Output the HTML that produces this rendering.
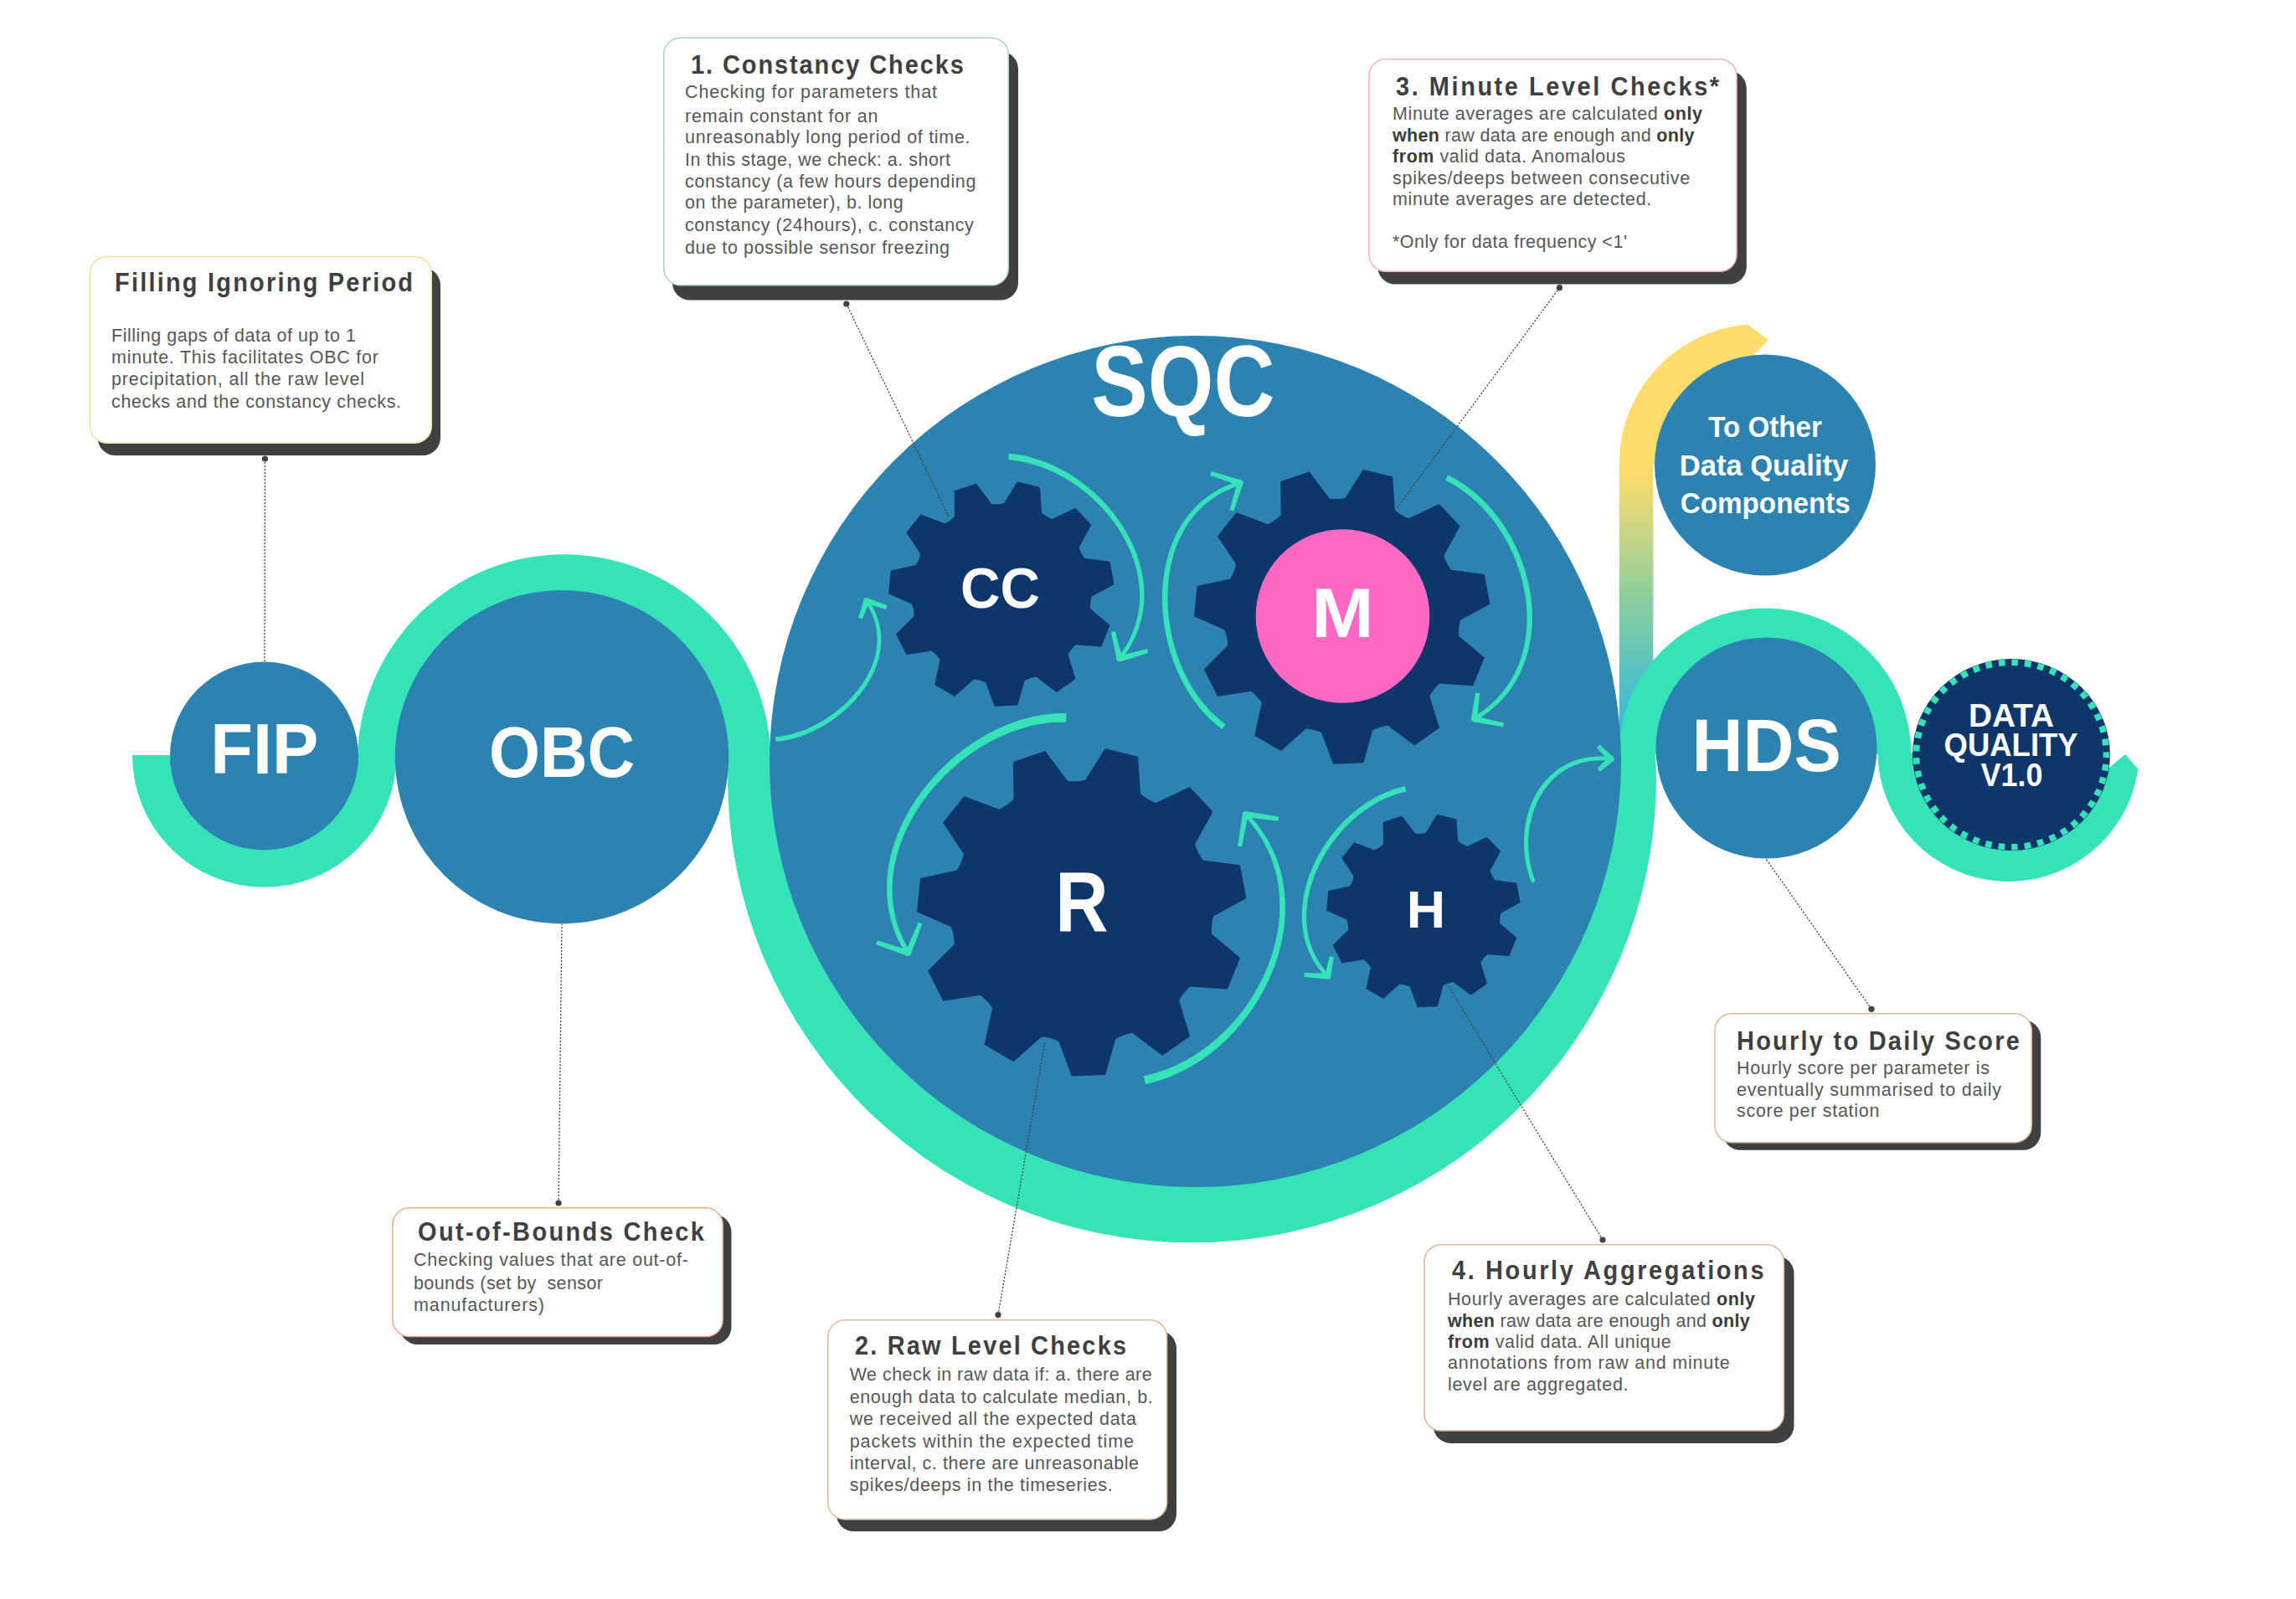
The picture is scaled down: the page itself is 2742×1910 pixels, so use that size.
<!DOCTYPE html>
<html><head><meta charset="utf-8"><style>
html,body{margin:0;padding:0;background:#fff;overflow:hidden;}
svg{display:block;}
text{font-family:"Liberation Sans",sans-serif;}
</style></head><body>
<svg width="2742" height="1910" viewBox="0 0 2742 1910">
<rect width="2742" height="1910" fill="#fff"/>
<path fill="#36E3B9" d="M158,902 A157.8,157.8 0 0 0 473.6,902 Z"/>
<path fill="#36E3B9" d="M427,909 A246.7,246.7 0 1 1 920.4,909 Z"/>
<path fill="#36E3B9" d="M870.2,895 A554.4,554.4 0 1 0 1976.8,895 Z"/>
<defs><linearGradient id="yg" x1="0" y1="380" x2="0" y2="870" gradientUnits="userSpaceOnUse"><stop offset="0" stop-color="#FDDC6B"/><stop offset="0.375" stop-color="#FDDC6B"/><stop offset="0.51" stop-color="#CFD682"/><stop offset="0.663" stop-color="#92CF98"/><stop offset="0.918" stop-color="#48BFCF"/><stop offset="1" stop-color="#37BCDA"/></linearGradient></defs>
<path fill="url(#yg)" d="M1933.8,880 L1933.8,553 A166.9,166.9 0 0 1 2087,387.5 L2112,406 L2095,423 L2108,555 L1974.3,555 L1974.3,880 Z"/>
<path fill="#36E3B9" d="M1933.5,901 A174.5,174.5 0 1 1 2282.5,901 Z"/>
<path fill="#36E3B9" d="M2242.2,897.8 A156.4,156.4 0 0 0 2553.4,918.8 L2538,901 L2519,917 L2402,901 Z"/>
<circle cx="315.5" cy="903" r="112.5" fill="#2C83B2"/>
<circle cx="671" cy="904.2" r="199.2" fill="#2C83B2"/>
<circle cx="1427.5" cy="909.6" r="508.5" fill="#2C83B2"/>
<circle cx="2108" cy="555.5" r="132" fill="#2C83B2"/>
<circle cx="2109.5" cy="893.5" r="132" fill="#2C83B2"/>
<ellipse cx="2402" cy="901.5" rx="118" ry="114.4" fill="#0F366B"/>
<ellipse cx="2402" cy="901.5" rx="113.5" ry="110.2" fill="none" stroke="#36E3B9" stroke-width="7.6" stroke-dasharray="7.6 8.018" stroke-dashoffset="4"/>
<path fill="#0F366B" d="M1198.8,601.3 L1215,575.3 L1242,582.1 L1244.1,612.6 Q1249.6,617.4 1256.6,619.9 L1284.3,606.8 L1303.3,627.1 L1288.6,653.9 Q1290.6,661 1295.1,666.8 L1325.5,670.8 L1330.6,698.1 L1303.7,712.7 Q1301.6,719.8 1302.2,727.1 L1325.6,746.8 L1315.1,772.5 L1284.6,770.3 Q1279,775.1 1275.5,781.7 L1284.6,810.9 L1261.8,826.9 L1237.4,808.5 Q1230.1,809.5 1223.6,813.1 L1215.4,842.6 L1187.7,843.7 L1177,815 Q1170.3,812 1163,811.5 L1140.1,831.9 L1116.1,817.9 L1122.7,788 Q1118.7,781.7 1112.8,777.4 L1082.5,782.1 L1070,757.4 L1091.7,735.8 Q1091.7,728.4 1089,721.5 L1061,709.2 L1063.8,681.6 L1093.7,675.1 Q1097.7,668.9 1099.2,661.7 L1082.3,636.2 L1099.6,614.5 L1128.3,625.2 Q1135,622.2 1140.1,616.9 L1139.7,586.3 L1166,577.4 L1184.3,601.9 Q1191.6,603 1198.8,601.3 Z"/>
<path fill="#0F366B" d="M1606.7,594.8 L1627.9,560.8 L1663.2,569.6 L1666,609.6 Q1673.3,616 1682.4,619.2 L1718.7,602.1 L1743.7,628.6 L1724.4,663.7 Q1727.1,673 1733,680.7 L1772.8,685.9 L1779.4,721.7 L1744.2,740.8 Q1741.4,750.1 1742.2,759.8 L1772.9,785.6 L1759.2,819.3 L1719.2,816.4 Q1711.8,822.7 1707.3,831.3 L1719.1,869.6 L1689.3,890.5 L1657.3,866.4 Q1647.7,867.8 1639.2,872.5 L1628.4,911.2 L1592.1,912.7 L1578.1,875 Q1569.3,871 1559.7,870.4 L1529.7,897.1 L1498.3,878.7 L1506.9,839.5 Q1501.7,831.4 1493.9,825.7 L1454.2,831.9 L1437.8,799.5 L1466.2,771.1 Q1466.2,761.5 1462.7,752.4 L1426,736.3 L1429.7,700.1 L1468.9,691.6 Q1474.2,683.5 1476.1,674 L1454,640.5 L1476.6,612.1 L1514.2,626.2 Q1523,622.2 1529.8,615.2 L1529.2,575.1 L1563.7,563.4 L1587.7,595.6 Q1597.3,597 1606.7,594.8 Z"/>
<path fill="#0F366B" d="M1296.1,931.8 L1319.8,894 L1359.1,903.8 L1362.1,948.3 Q1370.3,955.4 1380.4,959 L1420.8,939.9 L1448.6,969.4 L1427.1,1008.6 Q1430.1,1018.9 1436.7,1027.5 L1480.9,1033.2 L1488.4,1073 L1449.1,1094.4 Q1446.1,1104.7 1447,1115.4 L1481.1,1144.2 L1465.8,1181.7 L1421.3,1178.5 Q1413.1,1185.5 1408.1,1195 L1421.2,1237.7 L1388.1,1261 L1352.4,1234.1 Q1341.7,1235.6 1332.3,1240.9 L1320.3,1284 L1279.8,1285.6 L1264.3,1243.8 Q1254.5,1239.2 1243.8,1238.6 L1210.4,1268.3 L1175.5,1247.8 L1185.1,1204.2 Q1179.3,1195.1 1170.5,1188.8 L1126.4,1195.7 L1108.1,1159.6 L1139.7,1128.1 Q1139.8,1117.3 1135.9,1107.3 L1095,1089.3 L1099.1,1049 L1142.8,1039.6 Q1148.6,1030.5 1150.8,1020 L1126.1,982.7 L1151.4,951.1 L1193.2,966.7 Q1203,962.3 1210.5,954.6 L1209.9,909.9 L1248.3,896.9 L1274.9,932.7 Q1285.6,934.3 1296.1,931.8 Z"/>
<path fill="#0F366B" d="M1702.4,995 L1716.3,972.7 L1739.5,978.4 L1741.3,1004.7 Q1746.1,1008.8 1752.1,1011 L1775.8,999.7 L1792.2,1017.1 L1779.5,1040.1 Q1781.3,1046.2 1785.2,1051.3 L1811.3,1054.7 L1815.6,1078.1 L1792.5,1090.7 Q1790.7,1096.7 1791.2,1103.1 L1811.3,1120 L1802.3,1142.1 L1776.1,1140.2 Q1771.3,1144.3 1768.3,1149.9 L1776.1,1175.1 L1756.6,1188.8 L1735.6,1173 Q1729.3,1173.9 1723.7,1177 L1716.7,1202.3 L1692.8,1203.3 L1683.7,1178.6 Q1677.9,1176 1671.6,1175.6 L1652,1193.1 L1631.4,1181 L1637,1155.4 Q1633.6,1150 1628.5,1146.3 L1602.5,1150.4 L1591.7,1129.1 L1610.3,1110.5 Q1610.4,1104.2 1608.1,1098.3 L1584,1087.7 L1586.4,1063.9 L1612.1,1058.4 Q1615.6,1053.1 1616.8,1046.9 L1602.3,1024.9 L1617.2,1006.3 L1641.8,1015.5 Q1647.6,1012.9 1652,1008.3 L1651.7,982.1 L1674.2,974.4 L1690,995.5 Q1696.2,996.4 1702.4,995 Z"/>
<circle cx="1603.5" cy="736" r="103.8" fill="#FF69C3"/>
<path fill="#36E3B9" d="M926.6,886 L928.4,885.8 L930.3,885.6 L932.2,885.4 L934.1,885.1 L936,884.8 L937.9,884.4 L939.8,884.1 L941.7,883.7 L943.6,883.2 L945.6,882.7 L947.5,882.2 L949.4,881.7 L951.3,881.1 L953.2,880.5 L955.1,879.9 L957,879.3 L958.9,878.6 L960.7,877.9 L962.6,877.1 L964.5,876.3 L966.4,875.5 L968.2,874.7 L970.1,873.9 L971.9,873 L973.8,872.1 L975.6,871.1 L977.5,870.2 L979.3,869.2 L981.1,868.2 L982.9,867.2 L984.7,866.1 L986.4,865 L988.2,863.9 L990,862.8 L991.7,861.6 L993.4,860.5 L995.1,859.3 L996.8,858 L998.5,856.8 L1000.2,855.5 L1001.8,854.3 L1003.4,853 L1005.1,851.6 L1006.7,850.3 L1008.2,848.9 L1009.8,847.5 L1011.3,846.1 L1012.9,844.7 L1014.4,843.3 L1015.9,841.8 L1017.3,840.3 L1018.8,838.8 L1020.2,837.3 L1021.6,835.8 L1022.9,834.2 L1024.3,832.7 L1025.6,831.1 L1026.9,829.5 L1028.2,827.9 L1029.4,826.3 L1030.6,824.6 L1031.8,823 L1033,821.3 L1034.1,819.6 L1035.2,817.9 L1036.3,816.2 L1037.3,814.5 L1038.4,812.8 L1039.3,811 L1040.3,809.3 L1041.2,807.5 L1042.1,805.7 L1043,803.9 L1043.8,802.1 L1044.6,800.3 L1045.3,798.5 L1046,796.7 L1046.7,794.8 L1047.4,793 L1048,791.1 L1048.5,789.3 L1049.1,787.4 L1049.6,785.5 L1050,783.6 L1050.4,781.8 L1050.8,779.9 L1051.1,778 L1051.4,776 L1051.7,774.1 L1051.9,772.2 L1052,770.3 L1052.2,768.4 L1052.2,766.4 L1052.3,764.5 L1052.2,762.6 L1052.2,760.6 L1052.1,758.7 L1051.9,756.7 L1051.7,754.8 L1051.4,752.8 L1051.1,750.9 L1050.8,749 L1050.4,747 L1049.9,745.1 L1049.4,743.1 L1048.9,741.2 L1048.3,739.2 L1047.6,737.3 L1046.9,735.4 L1046.1,733.4 L1045.3,731.5 L1044.4,729.6 L1043.5,727.7 L1042.5,725.8 L1041.5,723.9 L1040.4,722 L1039.2,720.1 L1038,718.2 L1036.7,716.3 L1033.3,718.7 L1034.5,720.5 L1035.6,722.3 L1036.7,724.1 L1037.7,725.9 L1038.7,727.8 L1039.6,729.6 L1040.5,731.4 L1041.3,733.3 L1042.1,735.1 L1042.8,736.9 L1043.4,738.8 L1044.1,740.6 L1044.6,742.4 L1045.1,744.3 L1045.6,746.1 L1046,748 L1046.4,749.8 L1046.7,751.6 L1047,753.5 L1047.2,755.3 L1047.4,757.1 L1047.5,759 L1047.6,760.8 L1047.6,762.6 L1047.6,764.5 L1047.6,766.3 L1047.5,768.1 L1047.4,769.9 L1047.2,771.7 L1047,773.6 L1046.7,775.4 L1046.5,777.2 L1046.1,779 L1045.8,780.8 L1045.4,782.6 L1044.9,784.3 L1044.4,786.1 L1043.9,787.9 L1043.4,789.7 L1042.8,791.4 L1042.1,793.2 L1041.5,794.9 L1040.8,796.7 L1040,798.4 L1039.3,800.1 L1038.5,801.8 L1037.6,803.5 L1036.8,805.2 L1035.9,806.9 L1035,808.6 L1034,810.2 L1033,811.9 L1032,813.5 L1030.9,815.2 L1029.9,816.8 L1028.8,818.4 L1027.6,820 L1026.5,821.6 L1025.3,823.1 L1024.1,824.7 L1022.8,826.2 L1021.6,827.8 L1020.3,829.3 L1019,830.8 L1017.7,832.3 L1016.3,833.7 L1014.9,835.2 L1013.5,836.6 L1012.1,838 L1010.7,839.5 L1009.2,840.8 L1007.8,842.2 L1006.3,843.6 L1004.7,844.9 L1003.2,846.2 L1001.6,847.5 L1000.1,848.8 L998.5,850 L996.9,851.3 L995.3,852.5 L993.6,853.7 L992,854.8 L990.3,856 L988.7,857.1 L987,858.2 L985.3,859.3 L983.6,860.4 L981.8,861.4 L980.1,862.4 L978.4,863.4 L976.6,864.4 L974.9,865.3 L973.1,866.2 L971.3,867.1 L969.5,868 L967.8,868.8 L966,869.6 L964.2,870.4 L962.4,871.2 L960.5,871.9 L958.7,872.6 L956.9,873.3 L955.1,873.9 L953.3,874.5 L951.4,875.1 L949.6,875.7 L947.8,876.2 L946,876.7 L944.2,877.2 L942.3,877.7 L940.5,878.1 L938.7,878.4 L936.9,878.8 L935.1,879.1 L933.3,879.4 L931.4,879.6 L929.6,879.9 L927.9,880.1 L926,880.2Z"/>
<path fill="#36E3B9" d="M1031.7,716.3 L1025.1,738 L1029.9,739.6 L1038.3,718.7Z"/>
<path fill="#36E3B9" d="M1033.9,720.8 L1058,728 L1059.6,723.2 L1036.1,714.2Z"/>
<circle cx="1035" cy="717.5" r="3.5" fill="#36E3B9"/>
<path fill="#36E3B9" d="M1204.1,549.3 L1206.8,549.5 L1209.4,549.8 L1212.1,550.1 L1214.7,550.5 L1217.4,550.9 L1220,551.4 L1222.6,551.9 L1225.3,552.5 L1227.9,553.1 L1230.5,553.8 L1233.1,554.5 L1235.7,555.2 L1238.3,556 L1240.9,556.9 L1243.5,557.8 L1246,558.8 L1248.6,559.7 L1251.1,560.8 L1253.6,561.8 L1256.1,563 L1258.6,564.1 L1261.1,565.3 L1263.6,566.6 L1266,567.9 L1268.5,569.2 L1270.9,570.5 L1273.3,571.9 L1275.6,573.4 L1278,574.8 L1280.3,576.4 L1282.7,577.9 L1285,579.5 L1287.2,581.1 L1289.5,582.7 L1291.7,584.4 L1293.9,586.2 L1296.1,587.9 L1298.3,589.7 L1300.4,591.5 L1302.5,593.3 L1304.6,595.2 L1306.6,597.1 L1308.7,599.1 L1310.7,601 L1312.6,603 L1314.6,605 L1316.5,607.1 L1318.3,609.1 L1320.2,611.2 L1322,613.3 L1323.8,615.5 L1325.5,617.6 L1327.2,619.8 L1328.9,622 L1330.6,624.3 L1332.2,626.5 L1333.7,628.8 L1335.3,631.1 L1336.8,633.4 L1338.2,635.8 L1339.6,638.1 L1341,640.5 L1342.4,642.9 L1343.7,645.3 L1344.9,647.7 L1346.1,650.1 L1347.3,652.6 L1348.4,655 L1349.5,657.5 L1350.6,660 L1351.5,662.5 L1352.5,665 L1353.4,667.5 L1354.3,670 L1355.1,672.6 L1355.8,675.1 L1356.5,677.7 L1357.2,680.3 L1357.8,682.8 L1358.4,685.4 L1358.9,688 L1359.4,690.6 L1359.8,693.2 L1360.2,695.8 L1360.5,698.4 L1360.7,701 L1360.9,703.6 L1361.1,706.2 L1361.2,708.8 L1361.2,711.5 L1361.2,714.1 L1361.1,716.7 L1361,719.3 L1360.8,721.9 L1360.5,724.5 L1360.2,727.2 L1359.8,729.8 L1359.4,732.4 L1358.9,735 L1358.3,737.6 L1357.7,740.2 L1357,742.7 L1356.3,745.3 L1355.5,747.9 L1354.6,750.5 L1353.7,753 L1352.7,755.6 L1351.6,758.1 L1350.5,760.7 L1349.3,763.2 L1348,765.7 L1346.6,768.2 L1345.2,770.7 L1343.7,773.2 L1342.2,775.7 L1340.6,778.1 L1338.9,780.6 L1337.1,783 L1335.2,785.4 L1338.8,788.2 L1340.7,785.7 L1342.6,783.2 L1344.3,780.7 L1346,778.2 L1347.7,775.6 L1349.2,773.1 L1350.7,770.5 L1352.2,767.9 L1353.5,765.3 L1354.8,762.7 L1356,760.1 L1357.1,757.4 L1358.2,754.8 L1359.2,752.1 L1360.1,749.4 L1361,746.8 L1361.8,744.1 L1362.5,741.4 L1363.2,738.7 L1363.8,736 L1364.4,733.3 L1364.8,730.6 L1365.2,727.8 L1365.6,725.1 L1365.9,722.4 L1366.1,719.7 L1366.3,716.9 L1366.4,714.2 L1366.4,711.5 L1366.4,708.7 L1366.3,706 L1366.2,703.3 L1366,700.6 L1365.8,697.8 L1365.5,695.1 L1365.1,692.4 L1364.7,689.7 L1364.3,687 L1363.8,684.3 L1363.2,681.6 L1362.6,678.9 L1361.9,676.3 L1361.2,673.6 L1360.4,671 L1359.6,668.3 L1358.7,665.7 L1357.8,663 L1356.9,660.4 L1355.9,657.8 L1354.8,655.3 L1353.7,652.7 L1352.6,650.1 L1351.4,647.6 L1350.1,645 L1348.9,642.5 L1347.5,640 L1346.2,637.6 L1344.8,635.1 L1343.3,632.7 L1341.8,630.2 L1340.3,627.8 L1338.8,625.4 L1337.2,623.1 L1335.5,620.7 L1333.9,618.4 L1332.1,616.1 L1330.4,613.8 L1328.6,611.6 L1326.8,609.3 L1324.9,607.1 L1323.1,605 L1321.1,602.8 L1319.2,600.7 L1317.2,598.6 L1315.2,596.5 L1313.2,594.4 L1311.1,592.4 L1309,590.4 L1306.9,588.5 L1304.7,586.6 L1302.5,584.7 L1300.3,582.8 L1298.1,581 L1295.8,579.2 L1293.5,577.4 L1291.2,575.7 L1288.8,574 L1286.5,572.3 L1284.1,570.7 L1281.7,569.1 L1279.3,567.6 L1276.8,566 L1274.3,564.6 L1271.8,563.1 L1269.3,561.7 L1266.8,560.4 L1264.2,559.1 L1261.7,557.8 L1259.1,556.6 L1256.5,555.4 L1253.9,554.2 L1251.2,553.1 L1248.6,552.1 L1245.9,551 L1243.3,550.1 L1240.6,549.2 L1237.9,548.3 L1235.2,547.5 L1232.4,546.7 L1229.7,546 L1227,545.3 L1224.2,544.6 L1221.4,544.1 L1218.7,543.5 L1215.9,543.1 L1213.1,542.6 L1210.3,542.3 L1207.5,542 L1204.7,541.7Z"/>
<path fill="#36E3B9" d="M1340.4,786 L1331.8,754.1 L1327,755.3 L1333.6,787.6Z"/>
<path fill="#36E3B9" d="M1337.9,790.2 L1371.4,779.9 L1370,775.1 L1336.1,783.4Z"/>
<circle cx="1337" cy="786.8" r="3.5" fill="#36E3B9"/>
<path fill="#36E3B9" d="M1463.7,865.2 L1461.5,863.6 L1459.3,861.9 L1457.2,860.2 L1455.1,858.4 L1453,856.6 L1451,854.8 L1449,852.9 L1447,850.9 L1445,848.9 L1443.1,846.9 L1441.2,844.8 L1439.4,842.7 L1437.6,840.6 L1435.8,838.4 L1434.1,836.1 L1432.4,833.8 L1430.7,831.5 L1429,829.2 L1427.4,826.8 L1425.9,824.4 L1424.3,821.9 L1422.8,819.4 L1421.4,816.9 L1419.9,814.4 L1418.5,811.8 L1417.2,809.2 L1415.9,806.6 L1414.6,803.9 L1413.3,801.2 L1412.1,798.5 L1410.9,795.8 L1409.8,793 L1408.7,790.2 L1407.7,787.4 L1406.6,784.6 L1405.7,781.8 L1404.7,778.9 L1403.8,776.1 L1403,773.2 L1402.1,770.3 L1401.4,767.4 L1400.6,764.4 L1399.9,761.5 L1399.3,758.6 L1398.7,755.6 L1398.1,752.6 L1397.5,749.7 L1397.1,746.7 L1396.6,743.7 L1396.2,740.7 L1395.8,737.7 L1395.5,734.7 L1395.2,731.7 L1395,728.7 L1394.8,725.7 L1394.7,722.7 L1394.5,719.7 L1394.5,716.8 L1394.5,713.8 L1394.5,710.8 L1394.6,707.8 L1394.7,704.8 L1394.8,701.9 L1395,698.9 L1395.3,696 L1395.6,693.1 L1395.9,690.2 L1396.3,687.3 L1396.7,684.4 L1397.2,681.5 L1397.7,678.6 L1398.3,675.8 L1398.9,673 L1399.5,670.2 L1400.3,667.4 L1401,664.6 L1401.8,661.9 L1402.7,659.2 L1403.6,656.5 L1404.5,653.8 L1405.5,651.2 L1406.6,648.6 L1407.7,646 L1408.8,643.4 L1410,640.9 L1411.3,638.4 L1412.6,635.9 L1413.9,633.5 L1415.3,631.1 L1416.8,628.7 L1418.3,626.4 L1419.8,624.1 L1421.4,621.9 L1423.1,619.6 L1424.8,617.5 L1426.5,615.3 L1428.3,613.2 L1430.2,611.2 L1432.1,609.2 L1434.1,607.2 L1436.1,605.3 L1438.2,603.4 L1440.3,601.5 L1442.5,599.8 L1444.7,598 L1447,596.3 L1449.4,594.7 L1451.8,593.1 L1454.2,591.5 L1456.7,590.1 L1459.3,588.6 L1461.9,587.2 L1464.6,585.9 L1467.3,584.7 L1470.1,583.4 L1473,582.3 L1475.9,581.2 L1478.9,580.2 L1482,579.2 L1480.4,574.4 L1477.3,575.4 L1474.2,576.4 L1471.2,577.5 L1468.2,578.7 L1465.3,580 L1462.4,581.3 L1459.6,582.6 L1456.8,584 L1454.1,585.5 L1451.5,587 L1448.9,588.6 L1446.4,590.3 L1443.9,592 L1441.5,593.7 L1439.1,595.5 L1436.8,597.4 L1434.6,599.3 L1432.4,601.2 L1430.3,603.2 L1428.2,605.3 L1426.2,607.4 L1424.2,609.5 L1422.3,611.7 L1420.4,613.9 L1418.6,616.2 L1416.9,618.5 L1415.2,620.9 L1413.5,623.3 L1411.9,625.7 L1410.4,628.1 L1408.9,630.6 L1407.5,633.2 L1406.1,635.7 L1404.8,638.3 L1403.5,641 L1402.3,643.6 L1401.1,646.3 L1400,649 L1398.9,651.7 L1397.9,654.5 L1397,657.3 L1396,660.1 L1395.2,663 L1394.4,665.8 L1393.6,668.7 L1392.9,671.6 L1392.2,674.5 L1391.6,677.5 L1391.1,680.4 L1390.5,683.4 L1390.1,686.4 L1389.6,689.4 L1389.3,692.4 L1388.9,695.4 L1388.7,698.4 L1388.4,701.5 L1388.2,704.5 L1388.1,707.6 L1388,710.7 L1388,713.7 L1388,716.8 L1388,719.9 L1388.1,723 L1388.3,726.1 L1388.5,729.2 L1388.7,732.3 L1389,735.4 L1389.3,738.5 L1389.7,741.5 L1390.1,744.6 L1390.5,747.7 L1391,750.8 L1391.6,753.8 L1392.2,756.9 L1392.8,759.9 L1393.5,763 L1394.2,766 L1394.9,769 L1395.7,772 L1396.6,775 L1397.4,778 L1398.4,781 L1399.3,783.9 L1400.3,786.9 L1401.4,789.8 L1402.4,792.7 L1403.6,795.5 L1404.7,798.4 L1405.9,801.2 L1407.2,804 L1408.4,806.8 L1409.8,809.5 L1411.1,812.3 L1412.5,815 L1414,817.6 L1415.4,820.3 L1417,822.9 L1418.5,825.5 L1420.1,828 L1421.7,830.6 L1423.4,833.1 L1425.1,835.5 L1426.8,837.9 L1428.6,840.3 L1430.4,842.6 L1432.3,844.9 L1434.2,847.2 L1436.1,849.4 L1438,851.6 L1440,853.7 L1442.1,855.8 L1444.1,857.9 L1446.2,859.9 L1448.4,861.8 L1450.5,863.7 L1452.7,865.6 L1455,867.4 L1457.2,869.1 L1459.5,870.8Z"/>
<path fill="#36E3B9" d="M1482.3,573.5 L1446.8,563.1 L1445.2,567.9 L1480.1,580.1Z"/>
<path fill="#36E3B9" d="M1477.9,575.8 L1468.5,609.2 L1473.3,610.6 L1484.5,577.8Z"/>
<circle cx="1481.2" cy="576.8" r="3.5" fill="#36E3B9"/>
<path fill="#36E3B9" d="M1726,573.7 L1728.6,575 L1731.1,576.3 L1733.6,577.7 L1736.1,579.1 L1738.5,580.5 L1740.9,582 L1743.3,583.6 L1745.6,585.2 L1747.9,586.8 L1750.2,588.5 L1752.5,590.3 L1754.7,592 L1756.9,593.8 L1759.1,595.7 L1761.2,597.6 L1763.4,599.5 L1765.4,601.5 L1767.5,603.5 L1769.5,605.6 L1771.5,607.7 L1773.5,609.8 L1775.4,611.9 L1777.3,614.1 L1779.2,616.4 L1781,618.6 L1782.8,620.9 L1784.5,623.2 L1786.3,625.6 L1788,627.9 L1789.6,630.3 L1791.2,632.8 L1792.8,635.2 L1794.4,637.7 L1795.9,640.2 L1797.4,642.8 L1798.8,645.3 L1800.2,647.9 L1801.6,650.5 L1802.9,653.1 L1804.2,655.8 L1805.4,658.4 L1806.6,661.1 L1807.8,663.8 L1809,666.5 L1810,669.2 L1811.1,672 L1812.1,674.7 L1813.1,677.5 L1814,680.3 L1814.9,683.1 L1815.7,685.9 L1816.6,688.7 L1817.3,691.5 L1818,694.3 L1818.7,697.2 L1819.3,700 L1819.9,702.9 L1820.5,705.7 L1821,708.6 L1821.5,711.4 L1821.9,714.3 L1822.2,717.2 L1822.6,720 L1822.9,722.9 L1823.1,725.8 L1823.3,728.6 L1823.4,731.5 L1823.5,734.3 L1823.6,737.2 L1823.6,740 L1823.6,742.9 L1823.5,745.7 L1823.3,748.5 L1823.1,751.3 L1822.9,754.1 L1822.6,756.9 L1822.3,759.7 L1821.9,762.5 L1821.5,765.3 L1821,768 L1820.4,770.8 L1819.8,773.5 L1819.2,776.2 L1818.5,778.9 L1817.8,781.5 L1817,784.2 L1816.1,786.8 L1815.2,789.4 L1814.3,792 L1813.3,794.6 L1812.2,797.2 L1811.1,799.7 L1809.9,802.2 L1808.7,804.7 L1807.4,807.1 L1806.1,809.6 L1804.7,812 L1803.2,814.3 L1801.7,816.7 L1800.2,819 L1798.6,821.3 L1796.9,823.6 L1795.2,825.8 L1793.4,828 L1791.5,830.1 L1789.6,832.3 L1787.7,834.4 L1785.6,836.4 L1783.6,838.4 L1781.4,840.4 L1779.2,842.4 L1776.9,844.3 L1774.6,846.2 L1772.2,848 L1769.8,849.8 L1767.3,851.5 L1764.7,853.2 L1762.1,854.9 L1759.3,856.6 L1761.9,860.8 L1764.7,859.2 L1767.4,857.5 L1770.1,855.8 L1772.7,854 L1775.3,852.1 L1777.8,850.2 L1780.2,848.3 L1782.6,846.3 L1784.9,844.3 L1787.2,842.3 L1789.4,840.2 L1791.5,838.1 L1793.6,835.9 L1795.6,833.7 L1797.5,831.5 L1799.4,829.2 L1801.2,826.9 L1803,824.5 L1804.7,822.1 L1806.3,819.7 L1807.9,817.3 L1809.5,814.8 L1810.9,812.3 L1812.4,809.8 L1813.7,807.3 L1815,804.7 L1816.3,802.1 L1817.4,799.4 L1818.6,796.8 L1819.6,794.1 L1820.7,791.4 L1821.6,788.7 L1822.5,786 L1823.4,783.2 L1824.2,780.4 L1824.9,777.6 L1825.6,774.8 L1826.3,772 L1826.8,769.1 L1827.4,766.3 L1827.8,763.4 L1828.3,760.5 L1828.6,757.6 L1829,754.7 L1829.2,751.8 L1829.5,748.9 L1829.6,746 L1829.8,743 L1829.8,740.1 L1829.8,737.1 L1829.8,734.2 L1829.7,731.2 L1829.6,728.3 L1829.4,725.3 L1829.2,722.3 L1828.9,719.4 L1828.6,716.4 L1828.3,713.4 L1827.9,710.5 L1827.4,707.5 L1826.9,704.6 L1826.3,701.6 L1825.7,698.7 L1825.1,695.7 L1824.4,692.8 L1823.7,689.9 L1822.9,686.9 L1822.1,684 L1821.2,681.1 L1820.3,678.2 L1819.3,675.4 L1818.3,672.5 L1817.3,669.7 L1816.2,666.8 L1815.1,664 L1813.9,661.2 L1812.7,658.4 L1811.5,655.6 L1810.2,652.9 L1808.9,650.2 L1807.5,647.4 L1806.1,644.8 L1804.7,642.1 L1803.2,639.4 L1801.7,636.8 L1800.1,634.2 L1798.5,631.6 L1796.9,629.1 L1795.2,626.6 L1793.5,624.1 L1791.8,621.6 L1790,619.2 L1788.2,616.8 L1786.3,614.4 L1784.4,612 L1782.5,609.7 L1780.5,607.4 L1778.5,605.2 L1776.5,603 L1774.4,600.8 L1772.3,598.7 L1770.2,596.6 L1768,594.5 L1765.9,592.5 L1763.6,590.5 L1761.4,588.6 L1759.1,586.7 L1756.7,584.8 L1754.4,583 L1752,581.2 L1749.6,579.5 L1747.1,577.8 L1744.6,576.2 L1742.1,574.6 L1739.6,573.1 L1737,571.6 L1734.4,570.2 L1731.8,568.8 L1729.2,567.5Z"/>
<path fill="#36E3B9" d="M1764.1,859.2 L1767.2,828 L1762.2,827.4 L1757.1,858.2Z"/>
<path fill="#36E3B9" d="M1759.9,862.1 L1795.2,868.3 L1796.2,863.5 L1761.3,855.3Z"/>
<circle cx="1760.6" cy="858.7" r="3.5" fill="#36E3B9"/>
<path fill="#36E3B9" d="M1273.6,852 L1270.3,852 L1266.9,852 L1263.5,852.1 L1260.2,852.3 L1256.8,852.5 L1253.4,852.8 L1250.1,853.2 L1246.7,853.7 L1243.4,854.2 L1240,854.8 L1236.7,855.4 L1233.4,856.1 L1230.1,856.9 L1226.8,857.7 L1223.5,858.6 L1220.2,859.6 L1216.9,860.6 L1213.6,861.7 L1210.4,862.8 L1207.1,864 L1203.9,865.3 L1200.7,866.6 L1197.5,867.9 L1194.3,869.3 L1191.2,870.8 L1188,872.3 L1184.9,873.9 L1181.8,875.5 L1178.7,877.2 L1175.7,878.9 L1172.6,880.7 L1169.6,882.5 L1166.6,884.4 L1163.7,886.3 L1160.7,888.3 L1157.8,890.3 L1154.9,892.3 L1152.1,894.4 L1149.2,896.5 L1146.4,898.7 L1143.7,900.9 L1140.9,903.2 L1138.2,905.5 L1135.5,907.8 L1132.9,910.2 L1130.3,912.6 L1127.7,915.1 L1125.1,917.6 L1122.6,920.1 L1120.1,922.6 L1117.7,925.2 L1115.3,927.8 L1112.9,930.5 L1110.6,933.2 L1108.3,935.9 L1106.1,938.7 L1103.9,941.4 L1101.8,944.2 L1099.6,947.1 L1097.6,949.9 L1095.5,952.8 L1093.6,955.7 L1091.6,958.7 L1089.7,961.6 L1087.9,964.6 L1086.1,967.6 L1084.4,970.6 L1082.7,973.7 L1081.1,976.8 L1079.5,979.9 L1077.9,983 L1076.5,986.1 L1075,989.2 L1073.7,992.4 L1072.3,995.6 L1071.1,998.8 L1069.9,1002 L1068.7,1005.2 L1067.7,1008.4 L1066.6,1011.7 L1065.7,1015 L1064.8,1018.2 L1063.9,1021.5 L1063.2,1024.8 L1062.5,1028.1 L1061.8,1031.4 L1061.2,1034.7 L1060.7,1038.1 L1060.3,1041.4 L1059.9,1044.7 L1059.6,1048.1 L1059.3,1051.4 L1059.2,1054.7 L1059.1,1058.1 L1059.1,1061.4 L1059.1,1064.8 L1059.2,1068.1 L1059.4,1071.5 L1059.7,1074.8 L1060.1,1078.1 L1060.5,1081.5 L1061,1084.8 L1061.6,1088.1 L1062.2,1091.5 L1063,1094.8 L1063.8,1098.1 L1064.7,1101.4 L1065.7,1104.6 L1066.8,1107.9 L1067.9,1111.2 L1069.2,1114.4 L1070.5,1117.7 L1071.9,1120.9 L1073.4,1124.1 L1075,1127.3 L1076.7,1130.5 L1078.5,1133.6 L1080.3,1136.7 L1082.3,1139.8 L1086.9,1137 L1085.1,1133.9 L1083.3,1130.9 L1081.7,1127.8 L1080.1,1124.7 L1078.6,1121.6 L1077.2,1118.5 L1075.9,1115.4 L1074.6,1112.3 L1073.5,1109.2 L1072.4,1106 L1071.4,1102.9 L1070.5,1099.7 L1069.7,1096.6 L1068.9,1093.4 L1068.3,1090.2 L1067.7,1087 L1067.1,1083.8 L1066.7,1080.6 L1066.3,1077.5 L1066,1074.3 L1065.8,1071.1 L1065.7,1067.8 L1065.6,1064.6 L1065.6,1061.4 L1065.6,1058.2 L1065.8,1055 L1066,1051.8 L1066.2,1048.6 L1066.6,1045.4 L1067,1042.2 L1067.4,1039.1 L1068,1035.9 L1068.6,1032.7 L1069.2,1029.5 L1069.9,1026.4 L1070.7,1023.2 L1071.6,1020.1 L1072.5,1016.9 L1073.4,1013.8 L1074.5,1010.7 L1075.5,1007.6 L1076.7,1004.5 L1077.9,1001.4 L1079.1,998.4 L1080.4,995.3 L1081.8,992.3 L1083.2,989.3 L1084.7,986.3 L1086.2,983.3 L1087.7,980.3 L1089.4,977.4 L1091,974.4 L1092.7,971.5 L1094.5,968.7 L1096.3,965.8 L1098.2,963 L1100.1,960.1 L1102,957.4 L1104,954.6 L1106.1,951.9 L1108.1,949.1 L1110.3,946.5 L1112.4,943.8 L1114.6,941.2 L1116.9,938.6 L1119.2,936 L1121.5,933.5 L1123.8,931 L1126.2,928.5 L1128.6,926.1 L1131.1,923.7 L1133.6,921.3 L1136.1,919 L1138.7,916.7 L1141.3,914.4 L1143.9,912.2 L1146.5,910 L1149.2,907.9 L1151.9,905.8 L1154.6,903.7 L1157.4,901.7 L1160.2,899.7 L1163,897.8 L1165.8,895.9 L1168.7,894 L1171.6,892.2 L1174.5,890.5 L1177.4,888.8 L1180.3,887.1 L1183.3,885.5 L1186.2,883.9 L1189.2,882.4 L1192.2,881 L1195.3,879.6 L1198.3,878.2 L1201.3,876.9 L1204.4,875.6 L1207.5,874.4 L1210.6,873.3 L1213.7,872.2 L1216.8,871.2 L1219.9,870.2 L1223,869.3 L1226.1,868.4 L1229.3,867.6 L1232.4,866.8 L1235.5,866.1 L1238.7,865.5 L1241.8,865 L1245,864.4 L1248.2,864 L1251.3,863.6 L1254.5,863.3 L1257.6,863.1 L1260.8,862.9 L1263.9,862.8 L1267.1,862.7 L1270.2,862.7 L1273.4,862.8Z"/>
<path fill="#36E3B9" d="M1085.7,1135.1 L1047.6,1123.5 L1046,1128.3 L1083.5,1141.7Z"/>
<path fill="#36E3B9" d="M1087.8,1139.7 L1101.4,1103.5 L1096.8,1101.7 L1081.4,1137.1Z"/>
<circle cx="1084.6" cy="1138.4" r="3.5" fill="#36E3B9"/>
<path fill="#36E3B9" d="M1368,1295 L1371.4,1294.2 L1374.8,1293.4 L1378.2,1292.5 L1381.5,1291.5 L1384.9,1290.5 L1388.2,1289.4 L1391.5,1288.2 L1394.8,1287 L1398.1,1285.7 L1401.3,1284.4 L1404.5,1283 L1407.7,1281.5 L1410.8,1280 L1414,1278.4 L1417.1,1276.8 L1420.1,1275.1 L1423.2,1273.4 L1426.2,1271.6 L1429.2,1269.7 L1432.1,1267.9 L1435,1265.9 L1437.9,1263.9 L1440.8,1261.9 L1443.6,1259.8 L1446.4,1257.7 L1449.2,1255.5 L1451.9,1253.3 L1454.6,1251 L1457.2,1248.7 L1459.8,1246.3 L1462.4,1244 L1465,1241.5 L1467.5,1239.1 L1470,1236.5 L1472.4,1234 L1474.8,1231.4 L1477.1,1228.8 L1479.5,1226.1 L1481.7,1223.4 L1484,1220.7 L1486.2,1217.9 L1488.3,1215.2 L1490.5,1212.3 L1492.5,1209.5 L1494.6,1206.6 L1496.6,1203.7 L1498.5,1200.8 L1500.4,1197.8 L1502.3,1194.8 L1504.1,1191.8 L1505.8,1188.7 L1507.5,1185.7 L1509.2,1182.6 L1510.8,1179.5 L1512.4,1176.4 L1513.9,1173.2 L1515.4,1170 L1516.8,1166.8 L1518.2,1163.6 L1519.5,1160.4 L1520.8,1157.2 L1522,1153.9 L1523.2,1150.7 L1524.3,1147.4 L1525.4,1144.1 L1526.4,1140.8 L1527.4,1137.4 L1528.3,1134.1 L1529.1,1130.8 L1529.9,1127.4 L1530.7,1124.1 L1531.3,1120.7 L1532,1117.3 L1532.5,1114 L1533,1110.6 L1533.5,1107.2 L1533.9,1103.8 L1534.2,1100.4 L1534.5,1097.1 L1534.7,1093.7 L1534.8,1090.3 L1534.9,1086.9 L1534.9,1083.5 L1534.9,1080.1 L1534.8,1076.8 L1534.6,1073.4 L1534.3,1070 L1534,1066.7 L1533.7,1063.3 L1533.2,1060 L1532.7,1056.6 L1532.1,1053.3 L1531.5,1050 L1530.8,1046.7 L1530,1043.4 L1529.2,1040.1 L1528.3,1036.9 L1527.3,1033.6 L1526.2,1030.4 L1525.1,1027.2 L1523.9,1024 L1522.6,1020.9 L1521.2,1017.7 L1519.8,1014.6 L1518.3,1011.5 L1516.7,1008.4 L1515.1,1005.3 L1513.3,1002.3 L1511.5,999.3 L1509.7,996.3 L1507.7,993.3 L1505.7,990.4 L1503.6,987.5 L1501.4,984.6 L1499.1,981.8 L1496.7,979 L1494.3,976.2 L1491.8,973.5 L1489.2,970.8 L1485.6,974.2 L1488.1,976.9 L1490.5,979.6 L1492.8,982.3 L1495.1,985 L1497.2,987.8 L1499.3,990.6 L1501.3,993.5 L1503.3,996.3 L1505.1,999.2 L1506.9,1002.1 L1508.6,1005 L1510.2,1008 L1511.8,1010.9 L1513.3,1013.9 L1514.7,1016.9 L1516,1020 L1517.3,1023 L1518.5,1026.1 L1519.6,1029.2 L1520.6,1032.3 L1521.6,1035.4 L1522.5,1038.5 L1523.4,1041.7 L1524.2,1044.8 L1524.9,1048 L1525.5,1051.2 L1526.1,1054.4 L1526.6,1057.6 L1527.1,1060.8 L1527.4,1064 L1527.8,1067.3 L1528,1070.5 L1528.2,1073.7 L1528.3,1077 L1528.4,1080.2 L1528.4,1083.5 L1528.3,1086.8 L1528.2,1090 L1528,1093.3 L1527.8,1096.6 L1527.5,1099.8 L1527.2,1103.1 L1526.7,1106.3 L1526.3,1109.6 L1525.7,1112.9 L1525.2,1116.1 L1524.5,1119.4 L1523.8,1122.6 L1523.1,1125.8 L1522.3,1129 L1521.4,1132.3 L1520.5,1135.5 L1519.5,1138.7 L1518.5,1141.9 L1517.4,1145 L1516.3,1148.2 L1515.1,1151.3 L1513.9,1154.5 L1512.6,1157.6 L1511.3,1160.7 L1509.9,1163.8 L1508.5,1166.8 L1507.1,1169.9 L1505.5,1172.9 L1504,1175.9 L1502.4,1178.9 L1500.7,1181.9 L1499,1184.8 L1497.3,1187.7 L1495.5,1190.6 L1493.7,1193.5 L1491.8,1196.3 L1489.9,1199.2 L1487.9,1201.9 L1485.9,1204.7 L1483.9,1207.4 L1481.8,1210.1 L1479.7,1212.8 L1477.6,1215.4 L1475.4,1218 L1473.1,1220.6 L1470.9,1223.1 L1468.6,1225.6 L1466.2,1228.1 L1463.8,1230.5 L1461.4,1232.9 L1459,1235.3 L1456.5,1237.6 L1454,1239.9 L1451.4,1242.1 L1448.9,1244.3 L1446.3,1246.4 L1443.6,1248.5 L1440.9,1250.6 L1438.2,1252.6 L1435.5,1254.5 L1432.8,1256.5 L1430,1258.3 L1427.2,1260.2 L1424.3,1261.9 L1421.4,1263.6 L1418.5,1265.3 L1415.6,1266.9 L1412.7,1268.5 L1409.7,1270 L1406.7,1271.5 L1403.7,1272.9 L1400.7,1274.2 L1397.6,1275.5 L1394.5,1276.8 L1391.4,1277.9 L1388.3,1279.1 L1385.1,1280.1 L1382,1281.1 L1378.8,1282.1 L1375.6,1282.9 L1372.4,1283.8 L1369.1,1284.5 L1365.8,1285.2Z"/>
<path fill="#36E3B9" d="M1484,971.9 L1478.1,1010.4 L1483.1,1011.2 L1490.8,973.1Z"/>
<path fill="#36E3B9" d="M1486.9,976 L1526.4,980.7 L1527.2,975.7 L1487.9,969Z"/>
<circle cx="1487.4" cy="972.5" r="3.5" fill="#36E3B9"/>
<path fill="#36E3B9" d="M1678,939.3 L1675.7,939.8 L1673.4,940.4 L1671.1,941 L1668.8,941.6 L1666.5,942.3 L1664.2,943 L1661.9,943.8 L1659.7,944.6 L1657.4,945.5 L1655.2,946.4 L1653,947.4 L1650.8,948.4 L1648.6,949.4 L1646.4,950.5 L1644.2,951.6 L1642,952.8 L1639.9,953.9 L1637.8,955.2 L1635.7,956.5 L1633.6,957.8 L1631.5,959.1 L1629.5,960.5 L1627.4,961.9 L1625.4,963.4 L1623.4,964.9 L1621.4,966.4 L1619.5,967.9 L1617.5,969.5 L1615.6,971.1 L1613.7,972.8 L1611.8,974.4 L1610,976.1 L1608.1,977.9 L1606.3,979.6 L1604.5,981.4 L1602.8,983.2 L1601,985.1 L1599.3,987 L1597.6,988.9 L1596,990.8 L1594.3,992.7 L1592.7,994.7 L1591.1,996.7 L1589.6,998.7 L1588,1000.7 L1586.5,1002.8 L1585.1,1004.8 L1583.6,1006.9 L1582.2,1009 L1580.8,1011.2 L1579.5,1013.3 L1578.1,1015.5 L1576.8,1017.7 L1575.6,1019.9 L1574.3,1022.1 L1573.1,1024.3 L1572,1026.6 L1570.8,1028.8 L1569.7,1031.1 L1568.7,1033.4 L1567.7,1035.7 L1566.7,1038 L1565.7,1040.3 L1564.8,1042.6 L1563.9,1045 L1563.1,1047.3 L1562.3,1049.7 L1561.5,1052 L1560.8,1054.4 L1560.1,1056.8 L1559.5,1059.1 L1558.9,1061.5 L1558.3,1063.9 L1557.8,1066.3 L1557.3,1068.7 L1556.8,1071.1 L1556.4,1073.5 L1556.1,1075.9 L1555.8,1078.3 L1555.5,1080.7 L1555.3,1083.1 L1555.1,1085.5 L1554.9,1087.9 L1554.8,1090.3 L1554.8,1092.7 L1554.8,1095.1 L1554.8,1097.5 L1554.9,1099.9 L1555.1,1102.3 L1555.3,1104.7 L1555.5,1107 L1555.8,1109.4 L1556.2,1111.7 L1556.5,1114.1 L1557,1116.4 L1557.5,1118.7 L1558,1121 L1558.6,1123.3 L1559.3,1125.6 L1560,1127.9 L1560.7,1130.2 L1561.6,1132.4 L1562.4,1134.6 L1563.3,1136.9 L1564.3,1139.1 L1565.4,1141.2 L1566.4,1143.4 L1567.6,1145.5 L1568.8,1147.7 L1570.1,1149.8 L1571.4,1151.9 L1572.8,1153.9 L1574.2,1156 L1575.7,1158 L1577.2,1160 L1578.9,1162 L1580.5,1163.9 L1582.3,1165.9 L1584.1,1167.7 L1587.3,1164.7 L1585.6,1162.8 L1584,1160.9 L1582.4,1159.1 L1580.9,1157.1 L1579.4,1155.2 L1578,1153.3 L1576.6,1151.3 L1575.3,1149.3 L1574.1,1147.3 L1572.9,1145.3 L1571.8,1143.3 L1570.7,1141.2 L1569.7,1139.1 L1568.7,1137 L1567.8,1134.9 L1567,1132.8 L1566.2,1130.7 L1565.4,1128.6 L1564.7,1126.4 L1564.1,1124.2 L1563.5,1122 L1562.9,1119.8 L1562.4,1117.6 L1562,1115.4 L1561.6,1113.2 L1561.2,1111 L1560.9,1108.7 L1560.7,1106.5 L1560.5,1104.2 L1560.3,1101.9 L1560.2,1099.7 L1560.1,1097.4 L1560.1,1095.1 L1560.1,1092.8 L1560.2,1090.5 L1560.3,1088.2 L1560.5,1085.9 L1560.7,1083.6 L1560.9,1081.3 L1561.2,1079 L1561.5,1076.7 L1561.9,1074.4 L1562.3,1072.1 L1562.8,1069.8 L1563.2,1067.5 L1563.8,1065.2 L1564.3,1062.9 L1565,1060.6 L1565.6,1058.3 L1566.3,1056.1 L1567,1053.8 L1567.8,1051.5 L1568.6,1049.3 L1569.4,1047 L1570.3,1044.8 L1571.2,1042.5 L1572.1,1040.3 L1573.1,1038.1 L1574.1,1035.9 L1575.2,1033.7 L1576.2,1031.5 L1577.3,1029.3 L1578.5,1027.1 L1579.6,1025 L1580.8,1022.8 L1582.1,1020.7 L1583.3,1018.6 L1584.6,1016.5 L1585.9,1014.5 L1587.3,1012.4 L1588.7,1010.4 L1590.1,1008.3 L1591.5,1006.3 L1593,1004.4 L1594.4,1002.4 L1596,1000.5 L1597.5,998.6 L1599.1,996.7 L1600.7,994.8 L1602.3,992.9 L1603.9,991.1 L1605.6,989.3 L1607.3,987.5 L1609,985.8 L1610.7,984.1 L1612.4,982.4 L1614.2,980.7 L1616,979.1 L1617.8,977.5 L1619.7,975.9 L1621.5,974.3 L1623.4,972.8 L1625.3,971.3 L1627.2,969.9 L1629.1,968.5 L1631.1,967.1 L1633,965.7 L1635,964.4 L1637,963.1 L1639,961.9 L1641,960.7 L1643.1,959.5 L1645.1,958.3 L1647.2,957.2 L1649.2,956.2 L1651.3,955.2 L1653.4,954.2 L1655.5,953.2 L1657.7,952.3 L1659.8,951.5 L1661.9,950.7 L1664.1,949.9 L1666.2,949.1 L1668.4,948.5 L1670.6,947.8 L1672.8,947.2 L1674.9,946.7 L1677.1,946.1 L1679.4,945.7Z"/>
<path fill="#36E3B9" d="M1585.9,1162.7 L1557.6,1162.1 L1557.4,1167.1 L1585.5,1169.7Z"/>
<path fill="#36E3B9" d="M1589.1,1166.9 L1592.9,1143.2 L1587.9,1142.2 L1582.3,1165.5Z"/>
<circle cx="1585.7" cy="1166.2" r="3.5" fill="#36E3B9"/>
<path fill="#36E3B9" d="M1833.6,1052.6 L1833,1050.9 L1832.4,1049.2 L1831.8,1047.5 L1831.2,1045.8 L1830.6,1044 L1830.1,1042.3 L1829.6,1040.6 L1829.2,1038.8 L1828.7,1037.1 L1828.3,1035.3 L1827.9,1033.6 L1827.6,1031.8 L1827.2,1030 L1826.9,1028.3 L1826.6,1026.5 L1826.4,1024.7 L1826.1,1023 L1825.9,1021.2 L1825.7,1019.4 L1825.6,1017.6 L1825.5,1015.9 L1825.4,1014.1 L1825.3,1012.3 L1825.2,1010.5 L1825.2,1008.8 L1825.2,1007 L1825.2,1005.2 L1825.3,1003.5 L1825.3,1001.7 L1825.4,1000 L1825.6,998.2 L1825.7,996.5 L1825.9,994.7 L1826.1,993 L1826.3,991.2 L1826.5,989.5 L1826.8,987.8 L1827.1,986.1 L1827.4,984.4 L1827.8,982.7 L1828.1,981 L1828.5,979.4 L1828.9,977.7 L1829.4,976 L1829.8,974.4 L1830.3,972.8 L1830.8,971.1 L1831.3,969.5 L1831.9,967.9 L1832.5,966.3 L1833.1,964.8 L1833.7,963.2 L1834.3,961.7 L1835,960.1 L1835.7,958.6 L1836.4,957.1 L1837.1,955.6 L1837.9,954.2 L1838.7,952.7 L1839.5,951.3 L1840.3,949.8 L1841.1,948.4 L1842,947 L1842.8,945.6 L1843.7,944.3 L1844.7,942.9 L1845.6,941.6 L1846.6,940.3 L1847.6,939 L1848.6,937.8 L1849.6,936.5 L1850.7,935.3 L1851.7,934.1 L1852.8,932.9 L1853.9,931.8 L1855.1,930.6 L1856.2,929.5 L1857.4,928.5 L1858.6,927.4 L1859.8,926.3 L1861.1,925.3 L1862.4,924.3 L1863.6,923.4 L1865,922.4 L1866.3,921.5 L1867.6,920.6 L1869,919.8 L1870.4,919 L1871.8,918.2 L1873.2,917.4 L1874.7,916.6 L1876.2,915.9 L1877.7,915.2 L1879.2,914.6 L1880.7,913.9 L1882.3,913.3 L1883.9,912.8 L1885.5,912.2 L1887.1,911.7 L1888.7,911.2 L1890.4,910.8 L1892.1,910.4 L1893.8,910 L1895.5,909.7 L1897.2,909.4 L1899,909.1 L1900.8,908.9 L1902.6,908.7 L1904.4,908.5 L1906.3,908.4 L1908.1,908.3 L1910,908.2 L1911.9,908.2 L1913.9,908.2 L1915.8,908.3 L1917.8,908.4 L1919.8,908.5 L1921.8,908.7 L1923.8,908.9 L1924.4,904.5 L1922.3,904.2 L1920.2,904 L1918.1,903.8 L1916,903.7 L1914,903.6 L1912,903.6 L1910,903.6 L1908,903.6 L1906,903.7 L1904.1,903.8 L1902.1,903.9 L1900.2,904.1 L1898.3,904.3 L1896.5,904.6 L1894.6,904.9 L1892.8,905.2 L1891,905.6 L1889.2,906 L1887.4,906.5 L1885.7,907 L1883.9,907.5 L1882.2,908 L1880.6,908.6 L1878.9,909.2 L1877.2,909.9 L1875.6,910.6 L1874,911.3 L1872.4,912 L1870.9,912.8 L1869.3,913.6 L1867.8,914.4 L1866.3,915.3 L1864.8,916.2 L1863.4,917.1 L1861.9,918.1 L1860.5,919.1 L1859.1,920.1 L1857.8,921.1 L1856.4,922.2 L1855.1,923.3 L1853.8,924.4 L1852.5,925.6 L1851.3,926.7 L1850.1,927.9 L1848.9,929.1 L1847.7,930.4 L1846.5,931.6 L1845.4,932.9 L1844.3,934.2 L1843.2,935.6 L1842.1,936.9 L1841.1,938.3 L1840.1,939.7 L1839.1,941.1 L1838.1,942.5 L1837.1,944 L1836.2,945.4 L1835.3,946.9 L1834.4,948.4 L1833.6,949.9 L1832.8,951.5 L1832,953.1 L1831.2,954.6 L1830.5,956.2 L1829.8,957.8 L1829.1,959.5 L1828.4,961.1 L1827.8,962.7 L1827.2,964.4 L1826.6,966.1 L1826,967.8 L1825.5,969.5 L1824.9,971.2 L1824.5,972.9 L1824,974.6 L1823.5,976.3 L1823.1,978.1 L1822.7,979.9 L1822.4,981.6 L1822,983.4 L1821.7,985.2 L1821.4,987 L1821.2,988.8 L1820.9,990.6 L1820.7,992.4 L1820.5,994.2 L1820.4,996 L1820.2,997.8 L1820.1,999.6 L1820,1001.5 L1820,1003.3 L1820,1005.1 L1819.9,1007 L1820,1008.8 L1820,1010.7 L1820.1,1012.5 L1820.2,1014.4 L1820.3,1016.2 L1820.5,1018.1 L1820.6,1019.9 L1820.8,1021.8 L1821.1,1023.6 L1821.3,1025.4 L1821.6,1027.3 L1821.9,1029.1 L1822.3,1031 L1822.6,1032.8 L1823,1034.6 L1823.5,1036.5 L1823.9,1038.3 L1824.4,1040.1 L1824.9,1041.9 L1825.4,1043.7 L1826,1045.5 L1826.6,1047.3 L1827.2,1049.1 L1827.8,1050.9 L1828.5,1052.6 L1829.2,1054.4Z"/>
<path fill="#36E3B9" d="M1926.6,904.2 L1910.4,889.5 L1906.8,893.1 L1921.6,909.2Z"/>
<path fill="#36E3B9" d="M1921.8,904.1 L1907.5,917.9 L1910.9,921.7 L1926.4,909.3Z"/>
<circle cx="1924.1" cy="906.7" r="3.5" fill="#36E3B9"/>
<path d="M316.5,548 L316,790" stroke="#474747" stroke-width="1.3" stroke-dasharray="2.2 1.8" fill="none"/>
<circle cx="316.5" cy="548" r="3.6" fill="#404040"/>
<path d="M1010.8,363 L1134,619" stroke="#474747" stroke-width="1.3" stroke-dasharray="2.2 1.8" fill="none"/>
<circle cx="1010.8" cy="363" r="3.6" fill="#404040"/>
<path d="M1862.5,343.7 L1667,608.7" stroke="#474747" stroke-width="1.3" stroke-dasharray="2.2 1.8" fill="none"/>
<circle cx="1862.5" cy="343.7" r="3.6" fill="#404040"/>
<path d="M667,1437 L671,1104" stroke="#474747" stroke-width="1.3" stroke-dasharray="2.2 1.8" fill="none"/>
<circle cx="667" cy="1437" r="3.6" fill="#404040"/>
<path d="M1192,1570.6 L1248,1243.8" stroke="#474747" stroke-width="1.3" stroke-dasharray="2.2 1.8" fill="none"/>
<circle cx="1192" cy="1570.6" r="3.6" fill="#404040"/>
<path d="M1914,1481 L1729.8,1178" stroke="#474747" stroke-width="1.3" stroke-dasharray="2.2 1.8" fill="none"/>
<circle cx="1914" cy="1481" r="3.6" fill="#404040"/>
<path d="M2235,1205.3 L2109,1025.8" stroke="#474747" stroke-width="1.3" stroke-dasharray="2.2 1.8" fill="none"/>
<circle cx="2235" cy="1205.3" r="3.6" fill="#404040"/>
<rect x="116.7" y="319.7" width="409.3" height="224.3" rx="21" fill="#404040"/>
<rect x="107.5" y="306.4" width="407.8" height="222.8" rx="20" fill="#fff" stroke="#F9DE9E" stroke-width="1.5"/>
<rect x="803" y="61.5" width="413" height="297.1" rx="21" fill="#404040"/>
<rect x="792.8" y="45.2" width="411.5" height="295.6" rx="20" fill="#fff" stroke="#A8D3C7" stroke-width="1.5"/>
<rect x="1645.3" y="84.5" width="440.5" height="255.1" rx="21" fill="#404040"/>
<rect x="1635" y="70.7" width="439" height="253.6" rx="20" fill="#fff" stroke="#F5B3B7" stroke-width="1.5"/>
<rect x="477.7" y="1450.7" width="395.8" height="155.3" rx="21" fill="#404040"/>
<rect x="468.9" y="1442.8" width="394.3" height="153.8" rx="20" fill="#fff" stroke="#F4A986" stroke-width="1.5"/>
<rect x="998.7" y="1589.7" width="406.3" height="239.6" rx="21" fill="#404040"/>
<rect x="988.8" y="1576.8" width="404.8" height="238.1" rx="20" fill="#fff" stroke="#DDB995" stroke-width="1.5"/>
<rect x="1711.6" y="1500.1" width="430.9" height="223.8" rx="21" fill="#404040"/>
<rect x="1701" y="1486.8" width="429.4" height="222.3" rx="20" fill="#fff" stroke="#DDB995" stroke-width="1.5"/>
<rect x="2057.5" y="1218.4" width="379.8" height="155.4" rx="21" fill="#404040"/>
<rect x="2048" y="1210.8" width="378.3" height="153.9" rx="20" fill="#fff" stroke="#DDB995" stroke-width="1.5"/>
<text transform="translate(251.3,924) scale(0.9667,1)" font-size="85.9" font-weight="bold" fill="#ffffff">FIP</text>
<text transform="translate(583.9,927.5) scale(0.9226,1)" font-size="85" font-weight="bold" fill="#ffffff">OBC</text>
<text transform="translate(1303.3,497) scale(0.8428,1)" font-size="120" font-weight="bold" fill="#ffffff">SQC</text>
<text transform="translate(2020.5,920.5) scale(0.9598,1)" font-size="88.1" font-weight="bold" fill="#ffffff">HDS</text>
<text transform="translate(1147,726) scale(0.9588,1)" font-size="68.6" font-weight="bold" fill="#ffffff">CC</text>
<text transform="translate(1566.2,761.2) scale(1.0714,1)" font-size="83.3" font-weight="bold" fill="#ffffff">M</text>
<text transform="translate(1260.3,1112.5) scale(0.8525,1)" font-size="102.9" font-weight="bold" fill="#ffffff">R</text>
<text transform="translate(1679.8,1108.1) scale(1.0240,1)" font-size="62.9" font-weight="bold" fill="#ffffff">H</text>
<text transform="translate(2040.2,522) scale(0.9266,1)" font-size="35.8" font-weight="bold" fill="#ffffff">To Other</text>
<text transform="translate(2005.8,568) scale(0.9643,1)" font-size="35.8" font-weight="bold" fill="#ffffff">Data Quality</text>
<text transform="translate(2006.7,613) scale(0.9284,1)" font-size="35.8" font-weight="bold" fill="#ffffff">Components</text>
<text transform="translate(2351.1,867.6) scale(1.0212,1)" font-size="38" font-weight="bold" fill="#ffffff">DATA</text>
<text transform="translate(2321.5,903.4) scale(0.9610,1)" font-size="38" font-weight="bold" fill="#ffffff">QUALITY</text>
<text transform="translate(2365.6,939.3) scale(0.9457,1)" font-size="38" font-weight="bold" fill="#ffffff">V1.0</text>
<text transform="scale(0.92,1)" x="148.9" y="347.8" font-size="31.5" font-weight="bold" fill="#3f3f3f" textLength="387" lengthAdjust="spacing">Filling Ignoring Period</text>
<text transform="scale(0.92,1)" x="896.7" y="87.9" font-size="31.5" font-weight="bold" fill="#3f3f3f" textLength="354.3" lengthAdjust="spacing">1. Constancy Checks</text>
<text transform="scale(0.92,1)" x="1812" y="113.8" font-size="31.5" font-weight="bold" fill="#3f3f3f" textLength="419.6" lengthAdjust="spacing">3. Minute Level Checks*</text>
<text transform="scale(0.92,1)" x="542.4" y="1481.7" font-size="31.5" font-weight="bold" fill="#3f3f3f" textLength="371.7" lengthAdjust="spacing">Out-of-Bounds Check</text>
<text transform="scale(0.92,1)" x="1109.8" y="1618.2" font-size="31.5" font-weight="bold" fill="#3f3f3f" textLength="352.2" lengthAdjust="spacing">2. Raw Level Checks</text>
<text transform="scale(0.92,1)" x="1884.8" y="1528" font-size="31.5" font-weight="bold" fill="#3f3f3f" textLength="404.9" lengthAdjust="spacing">4. Hourly Aggregations</text>
<text transform="scale(0.92,1)" x="2254.3" y="1254" font-size="31.5" font-weight="bold" fill="#3f3f3f" textLength="367.4" lengthAdjust="spacing">Hourly to Daily Score</text>
<text x="133" y="407.6" font-size="21.5" fill="#575757" textLength="292" lengthAdjust="spacing" xml:space="preserve">Filling gaps of data of up to 1</text>
<text x="133" y="434" font-size="21.5" fill="#575757" textLength="318.8" lengthAdjust="spacing" xml:space="preserve">minute. This facilitates OBC for</text>
<text x="133" y="459.6" font-size="21.5" fill="#575757" textLength="302" lengthAdjust="spacing" xml:space="preserve">precipitation, all the raw level</text>
<text x="133" y="487" font-size="21.5" fill="#575757" textLength="346" lengthAdjust="spacing" xml:space="preserve">checks and the constancy checks.</text>
<text x="818" y="117.2" font-size="21.5" fill="#575757" textLength="301" lengthAdjust="spacing" xml:space="preserve">Checking for parameters that</text>
<text x="818" y="145.9" font-size="21.5" fill="#575757" textLength="230.4" lengthAdjust="spacing" xml:space="preserve">remain constant for an</text>
<text x="818" y="171.4" font-size="21.5" fill="#575757" textLength="340.6" lengthAdjust="spacing" xml:space="preserve">unreasonably long period of time.</text>
<text x="818" y="198" font-size="21.5" fill="#575757" textLength="317" lengthAdjust="spacing" xml:space="preserve">In this stage, we check: a. short</text>
<text x="818" y="223.5" font-size="21.5" fill="#575757" textLength="347.4" lengthAdjust="spacing" xml:space="preserve">constancy (a few hours depending</text>
<text x="818" y="249" font-size="21.5" fill="#575757" textLength="260.8" lengthAdjust="spacing" xml:space="preserve">on the parameter), b. long</text>
<text x="818" y="275.6" font-size="21.5" fill="#575757" textLength="344.8" lengthAdjust="spacing" xml:space="preserve">constancy (24hours), c. constancy</text>
<text x="818" y="303.3" font-size="21.5" fill="#575757" textLength="316" lengthAdjust="spacing" xml:space="preserve">due to possible sensor freezing</text>
<text x="1663" y="143" font-size="21.5" fill="#575757" textLength="370" lengthAdjust="spacing" xml:space="preserve">Minute averages are calculated <tspan font-weight="bold" fill="#3a3a3a">only</tspan></text>
<text x="1663" y="168.5" font-size="21.5" fill="#575757" textLength="360.5" lengthAdjust="spacing" xml:space="preserve"><tspan font-weight="bold" fill="#3a3a3a">when</tspan> raw data are enough and <tspan font-weight="bold" fill="#3a3a3a">only</tspan></text>
<text x="1663" y="194" font-size="21.5" fill="#575757" textLength="278" lengthAdjust="spacing" xml:space="preserve"><tspan font-weight="bold" fill="#3a3a3a">from</tspan> valid data. Anomalous</text>
<text x="1663" y="219.5" font-size="21.5" fill="#575757" textLength="355.3" lengthAdjust="spacing" xml:space="preserve">spikes/deeps between consecutive</text>
<text x="1663" y="245" font-size="21.5" fill="#575757" textLength="309.3" lengthAdjust="spacing" xml:space="preserve">minute averages are detected.</text>
<text x="1663" y="296" font-size="21.5" fill="#575757" textLength="280" lengthAdjust="spacing" xml:space="preserve">*Only for data frequency &lt;1'</text>
<text x="494" y="1512" font-size="21.5" fill="#575757" textLength="327.8" lengthAdjust="spacing" xml:space="preserve">Checking values that are out-of-</text>
<text x="494" y="1539.8" font-size="21.5" fill="#575757" textLength="226" lengthAdjust="spacing" xml:space="preserve">bounds (set by  sensor</text>
<text x="494" y="1565.6" font-size="21.5" fill="#575757" textLength="156" lengthAdjust="spacing" xml:space="preserve">manufacturers)</text>
<text x="1014.7" y="1649" font-size="21.5" fill="#575757" textLength="361" lengthAdjust="spacing" xml:space="preserve">We check in raw data if: a. there are</text>
<text x="1014.7" y="1675.5" font-size="21.5" fill="#575757" textLength="362" lengthAdjust="spacing" xml:space="preserve">enough data to calculate median, b.</text>
<text x="1014.7" y="1702" font-size="21.5" fill="#575757" textLength="342.3" lengthAdjust="spacing" xml:space="preserve">we received all the expected data</text>
<text x="1014.7" y="1728.5" font-size="21.5" fill="#575757" textLength="339.3" lengthAdjust="spacing" xml:space="preserve">packets within the expected time</text>
<text x="1014.7" y="1755" font-size="21.5" fill="#575757" textLength="345.3" lengthAdjust="spacing" xml:space="preserve">interval, c. there are unreasonable</text>
<text x="1014.7" y="1781.3" font-size="21.5" fill="#575757" textLength="314" lengthAdjust="spacing" xml:space="preserve">spikes/deeps in the timeseries.</text>
<text x="1729" y="1559.3" font-size="21.5" fill="#575757" textLength="367" lengthAdjust="spacing" xml:space="preserve">Hourly averages are calculated <tspan font-weight="bold" fill="#3a3a3a">only</tspan></text>
<text x="1729" y="1584.6" font-size="21.5" fill="#575757" textLength="360.8" lengthAdjust="spacing" xml:space="preserve"><tspan font-weight="bold" fill="#3a3a3a">when</tspan> raw data are enough and <tspan font-weight="bold" fill="#3a3a3a">only</tspan></text>
<text x="1729" y="1610" font-size="21.5" fill="#575757" textLength="266.7" lengthAdjust="spacing" xml:space="preserve"><tspan font-weight="bold" fill="#3a3a3a">from</tspan> valid data. All unique</text>
<text x="1729" y="1635.3" font-size="21.5" fill="#575757" textLength="336.7" lengthAdjust="spacing" xml:space="preserve">annotations from raw and minute</text>
<text x="1729" y="1661" font-size="21.5" fill="#575757" textLength="215.5" lengthAdjust="spacing" xml:space="preserve">level are aggregated.</text>
<text x="2074" y="1283" font-size="21.5" fill="#575757" textLength="302" lengthAdjust="spacing" xml:space="preserve">Hourly score per parameter is</text>
<text x="2074" y="1308.5" font-size="21.5" fill="#575757" textLength="316" lengthAdjust="spacing" xml:space="preserve">eventually summarised to daily</text>
<text x="2074" y="1334" font-size="21.5" fill="#575757" textLength="170.4" lengthAdjust="spacing" xml:space="preserve">score per station</text>
</svg></body></html>
